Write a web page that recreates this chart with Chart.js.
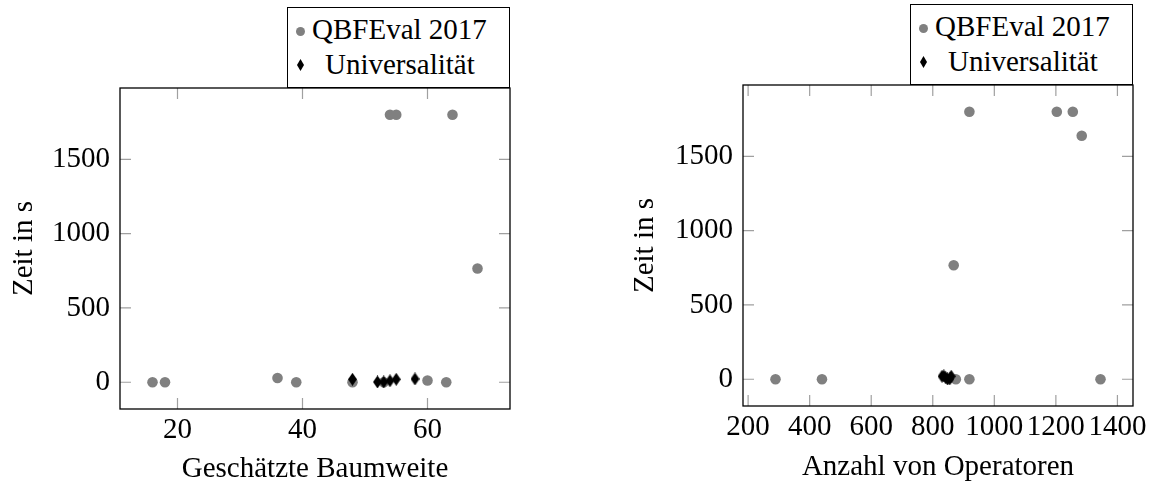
<!DOCTYPE html>
<html>
<head>
<meta charset="utf-8">
<script src="https://cdn.jsdelivr.net/npm/chart.js@4"></script>
<style>
body { margin: 0; background: #fff; }
#wrap { position: relative; width: 1154px; height: 484px; overflow: hidden; }
.pane { position: absolute; top: 0; }
.legend { position: absolute; width: 223px; height: 81px; border: 1px solid #000; background: #fff;
  box-sizing: border-box; font-family: "Liberation Serif", serif; font-size: 29px; color: #000; }
.legend .txt { position: absolute; line-height: 35px; white-space: nowrap; }
.legend .dot { position: absolute; width: 9px; height: 9px; border-radius: 50%; background: #808080; }
.legend canvas { position: absolute; }
</style>
</head>
<body>
<div id="wrap">
  <div class="pane" style="left:0"><canvas id="links" width="577" height="484"></canvas></div>
  <div class="pane" style="left:577px"><canvas id="rechts" width="577" height="484"></canvas></div>
</div>
<script>
// Werte
const seriesNames = ['QBFEval 2017', 'Universalität'];

const qbfBaumweite = [16, 18, 36, 39, 48, 53, 54, 55, 60, 63, 64, 68];
const qbfZeitLinks = [0, 0, 29, 0, 0, 0, 1800, 1800, 12, 0, 1800, 765];
const uniBaumweite = [48, 52, 53, 54, 55, 58];
const uniZeitLinks = [20, 2, 2, 10, 20, 22];

const qbfOperatoren = [289, 440, 868, 875, 919, 919, 1203, 1255, 1284, 1345];
const qbfZeitRechts = [0, 0, 767, 0, 0, 1800, 1800, 1800, 1639, 0];
const uniOperatoren = [830, 836, 842, 848, 855, 860];
const uniZeitRechts = [20, 22, 10, 2, 2, 20];

const xTicksLinks = [20, 40, 60];
const xTicksRechts = [200, 400, 600, 800, 1000, 1200, 1400];
const yTicks = [0, 500, 1000, 1500];

const xTitles = ['Geschätzte Baumweite', 'Anzahl von Operatoren'];
const yTitle = 'Zeit in s';

const grey = '#808080';
const font = '"Liberation Serif", serif';

Chart.defaults.font.family = font;
Chart.defaults.font.size = 29;
Chart.defaults.color = '#000';

function makeDiamond(w, h) {
    const c = document.createElement('canvas');
    c.width = w;
    c.height = h;
    const g = c.getContext('2d');
    g.fillStyle = '#000';
    g.beginPath();
    g.moveTo(w / 2, 0);
    g.lineTo(w, h / 2);
    g.lineTo(w / 2, h);
    g.lineTo(0, h / 2);
    g.closePath();
    g.fill();
    return c;
}

function toPoints(xs, ys) {
    let pts = [];
    for (let i = 0; i < xs.length; i++) {
        pts.push({x: xs[i], y: ys[i]});
    }
    return pts;
}

// pgfplots-artige Achsengrenzen: 10% Rand auf jeder Seite
function enlarged(values) {
    let lo = Math.min(...values);
    let hi = Math.max(...values);
    let pad = (hi - lo) * 0.1;
    return [lo - pad, hi + pad];
}

const framePlugin = {
    id: 'frame',
    beforeDatasetsDraw(chart) {
        const ctx = chart.ctx;
        const a = chart.chartArea;
        const len = 11;
        ctx.save();
        ctx.strokeStyle = '#a0a0a0';
        ctx.lineWidth = 1.2;
        ctx.beginPath();
        chart.scales.x.ticks.forEach(function (t) {
            let px = chart.scales.x.getPixelForValue(t.value);
            ctx.moveTo(px, a.bottom); ctx.lineTo(px, a.bottom - len);
            ctx.moveTo(px, a.top); ctx.lineTo(px, a.top + len);
        });
        chart.scales.y.ticks.forEach(function (t) {
            let py = chart.scales.y.getPixelForValue(t.value);
            ctx.moveTo(a.left, py); ctx.lineTo(a.left + len, py);
            ctx.moveTo(a.right, py); ctx.lineTo(a.right - len, py);
        });
        ctx.stroke();
        ctx.restore();
    },
    afterDatasetsDraw(chart) {
        const ctx = chart.ctx;
        const a = chart.chartArea;
        ctx.save();
        ctx.strokeStyle = '#000';
        ctx.lineWidth = 1.3;
        ctx.strokeRect(a.left, a.top, a.right - a.left, a.bottom - a.top);
        ctx.restore();
    }
};

function makeChart(id, cfg) {
    const xr = enlarged(cfg.qx.concat(cfg.ux));
    const yr = enlarged(cfg.qy.concat(cfg.uy));
    return new Chart(document.getElementById(id), {
        type: 'scatter',
        data: {
            datasets: [{
                label: seriesNames[0],
                data: toPoints(cfg.qx, cfg.qy),
                backgroundColor: grey,
                borderWidth: 0,
                pointRadius: 5.3,
                pointHoverRadius: 5.3,
                order: 1
            }, {
                label: seriesNames[1],
                data: toPoints(cfg.ux, cfg.uy),
                pointStyle: makeDiamond(9, 13),
                backgroundColor: '#000',
                borderWidth: 0,
                order: 0
            }]
        },
        options: {
            responsive: false,
            animation: false,
            events: [],
            layout: { padding: cfg.padding },
            plugins: { legend: { display: false }, tooltip: { enabled: false } },
            scales: {
                x: {
                    type: 'linear',
                    min: xr[0],
                    max: xr[1],
                    grid: { display: false, drawTicks: false },
                    border: { display: false },
                    afterBuildTicks: function (s) {
                        s.ticks = cfg.xTicks.map(function (v) { return {value: v}; });
                    },
                    ticks: {
                        autoSkip: false,
                        maxRotation: 0,
                        padding: 4,
                        callback: function (v) { return String(v); }
                    },
                    title: {
                        display: true,
                        text: cfg.xTitle,
                        font: { lineHeight: 1 },
                        padding: { top: 0, bottom: cfg.xTitlePad }
                    },
                    afterFit: function (s) {
                        s.height = cfg.xHeight;
                        s.paddingLeft = 0;
                        s.paddingRight = 0;
                    }
                },
                y: {
                    type: 'linear',
                    min: yr[0],
                    max: yr[1],
                    grid: { display: false, drawTicks: false },
                    border: { display: false },
                    afterBuildTicks: function (s) {
                        s.ticks = yTicks.map(function (v) { return {value: v}; });
                    },
                    ticks: {
                        autoSkip: false,
                        padding: 10,
                        callback: function (v) { return String(v); }
                    },
                    title: {
                        display: true,
                        text: yTitle,
                        font: { lineHeight: 1 },
                        padding: { top: cfg.yTitlePad, bottom: 0 }
                    },
                    afterFit: function (s) {
                        s.width = cfg.yWidth;
                        s.paddingTop = 0;
                        s.paddingBottom = 0;
                    }
                }
            }
        },
        plugins: [framePlugin]
    });
}

makeChart('links', {
    qx: qbfBaumweite, qy: qbfZeitLinks, ux: uniBaumweite, uy: uniZeitLinks,
    xTitle: xTitles[0], xTicks: xTicksLinks,
    padding: { left: 0, top: 88, right: 67, bottom: 0 },
    yWidth: 120, xHeight: 75, yTitlePad: 10, xTitlePad: 0
});

makeChart('rechts', {
    qx: qbfOperatoren, qy: qbfZeitRechts, ux: uniOperatoren, uy: uniZeitRechts,
    xTitle: xTitles[1], xTicks: xTicksRechts,
    padding: { left: 40, top: 85, right: 21, bottom: 0 },
    yWidth: 126, xHeight: 78, yTitlePad: 13.5, xTitlePad: 2
});

function addLegend(left, top) {
    const box = document.createElement('div');
    box.className = 'legend';
    box.style.left = left + 'px';
    box.style.top = top + 'px';

    const dot = document.createElement('span');
    dot.className = 'dot';
    dot.style.left = '7.5px';
    dot.style.top = '18.5px';
    box.appendChild(dot);

    const t1 = document.createElement('div');
    t1.className = 'txt';
    t1.style.left = '24px';
    t1.style.top = '3.5px';
    t1.textContent = seriesNames[0];
    box.appendChild(t1);

    const dia = makeDiamond(7, 12);
    dia.style.left = '9.2px';
    dia.style.top = '51px';
    box.appendChild(dia);

    const t2 = document.createElement('div');
    t2.className = 'txt';
    t2.style.left = '37px';
    t2.style.top = '38.5px';
    t2.textContent = seriesNames[1];
    box.appendChild(t2);

    document.getElementById('wrap').appendChild(box);
}

addLegend(287, 7);
addLegend(910, 4);
</script>
</body>
</html>
